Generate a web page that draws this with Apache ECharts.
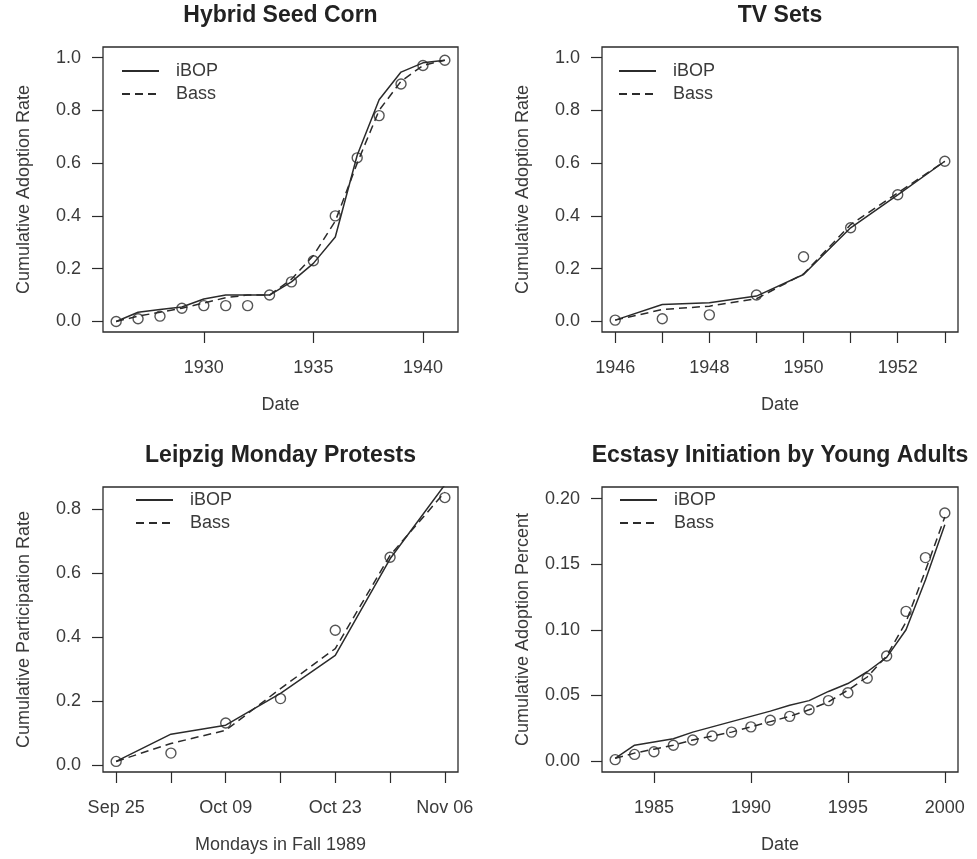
<!DOCTYPE html>
<html><head><meta charset="utf-8">
<script src="https://cdn.jsdelivr.net/npm/echarts@6/dist/echarts.min.js"></script>
<style>html,body{margin:0;padding:0;background:#fff}#c{width:977px;height:859px}</style>
</head><body><div id="c"></div>
<script>
// ---- Hybrid Seed Corn ----
const cornYears = [1926,1927,1928,1929,1930,1931,1932,1933,1934,1935,1936,1937,1938,1939,1940,1941];
const cornObs   = [0.00,0.01,0.02,0.05,0.06,0.06,0.06,0.10,0.15,0.23,0.40,0.62,0.78,0.90,0.97,0.99];
const cornIBOP  = [0.00,0.035,0.045,0.055,0.085,0.10,0.10,0.10,0.15,0.22,0.32,0.63,0.84,0.945,0.98,0.99];
const cornBass  = [0.00,0.02,0.035,0.05,0.07,0.09,0.10,0.10,0.16,0.25,0.38,0.60,0.80,0.91,0.97,0.99];
// ---- TV Sets ----
const tvYears = [1946,1947,1948,1949,1950,1951,1952,1953];
const tvObs   = [0.005,0.01,0.025,0.10,0.245,0.355,0.48,0.607];
const tvIBOP  = [0.005,0.064,0.071,0.096,0.178,0.355,0.48,0.607];
const tvBass  = [0.005,0.045,0.058,0.086,0.18,0.367,0.487,0.607];
// ---- Leipzig Monday Protests ----
const mondays  = ['Sep 25','Oct 02','Oct 09','Oct 16','Oct 23','Oct 30','Nov 06'];
const leipObs  = [0.012,0.038,0.132,0.208,0.421,0.649,0.835];
const leipIBOP = [0.012,0.097,0.125,0.224,0.343,0.644,0.875];
const leipBass = [0.012,0.068,0.109,0.239,0.364,0.655,0.852];
// ---- Ecstasy Initiation by Young Adults ----
const ecsYears = [1983,1984,1985,1986,1987,1988,1989,1990,1991,1992,1993,1994,1995,1996,1997,1998,1999,2000];
const ecsObs   = [0.001,0.005,0.007,0.012,0.016,0.019,0.022,0.026,0.031,0.034,0.039,0.046,0.052,0.063,0.080,0.114,0.155,0.189];
const ecsIBOP  = [0.002,0.012,0.0145,0.017,0.022,0.026,0.030,0.034,0.038,0.0425,0.046,0.053,0.059,0.068,0.079,0.100,0.138,0.180];
const ecsBass  = [0.002,0.006,0.009,0.012,0.016,0.019,0.022,0.026,0.030,0.034,0.039,0.045,0.054,0.064,0.080,0.106,0.145,0.186];
// ---- tick values / labels ----
const cornXTicks = [1930,1935,1940];
const tvXTicks   = [1946,1947,1948,1949,1950,1951,1952,1953];
const tvXLabels  = [1946,1948,1950,1952];
const leipXTicks = [0,1,2,3,4,5,6];
const leipXLabels= [0,2,4,6];
const ecsXTicks  = [1985,1990,1995,2000];
const rateYTicks = [0,0.2,0.4,0.6,0.8,1.0];
const leipYTicks = [0,0.2,0.4,0.6,0.8];
const ecsYTicks  = [0,0.05,0.10,0.15,0.20];
const titles = ['Hybrid Seed Corn','TV Sets','Leipzig Monday Protests','Ecstasy Initiation by Young Adults'];
const yNames = ['Cumulative Adoption Rate','Cumulative Adoption Rate','Cumulative Participation Rate','Cumulative Adoption Percent'];
const xNames = ['Date','Date','Mondays in Fall 1989','Date'];

const FONT = 'Liberation Sans, Arial, Helvetica, sans-serif';
const INK = '#2b2b2b';
const TXT = '#3a3a3a';
const idx = a => a.map((_, i) => i);
const zip = (xs, ys) => xs.map((x, i) => [x, ys[i]]);

const panels = [
  {grid:{left:103,top:47,width:355,height:285}, xs:cornYears, obs:cornObs, ib:cornIBOP, bs:cornBass,
   xmin:1925.4, xmax:1941.6, ymin:-0.04, ymax:1.04, xt:cornXTicks, xl:cornXTicks, xf:v=>String(v),
   yt:rateYTicks, yf:v=>v.toFixed(1), leg:{left:121,top:62}},
  {grid:{left:602,top:47,width:356,height:285}, xs:tvYears, obs:tvObs, ib:tvIBOP, bs:tvBass,
   xmin:1945.72, xmax:1953.28, ymin:-0.04, ymax:1.04, xt:tvXTicks, xl:tvXLabels, xf:v=>String(v),
   yt:rateYTicks, yf:v=>v.toFixed(1), leg:{left:618,top:62}},
  {grid:{left:103,top:487,width:355,height:285}, xs:idx(mondays), obs:leipObs, ib:leipIBOP, bs:leipBass,
   xmin:-0.24, xmax:6.24, ymin:-0.021, ymax:0.868, xt:leipXTicks, xl:leipXLabels, xf:v=>mondays[Math.round(v)],
   yt:leipYTicks, yf:v=>v.toFixed(1), leg:{left:135,top:491}},
  {grid:{left:602,top:487,width:356,height:285}, xs:ecsYears, obs:ecsObs, ib:ecsIBOP, bs:ecsBass,
   xmin:1982.32, xmax:2000.68, ymin:-0.0084, ymax:0.2088, xt:ecsXTicks, xl:ecsXTicks, xf:v=>String(v),
   yt:ecsYTicks, yf:v=>v.toFixed(2), leg:{left:619,top:491}}
];

const option = {animation:false, backgroundColor:'#fff', title:[], grid:[], xAxis:[], yAxis:[], legend:[], series:[]};
panels.forEach((p, i) => {
  const gx = p.grid.left + p.grid.width / 2;
  option.title.push({text:titles[i], left:gx, top:p.grid.top - 43, textAlign:'center', padding:0,
    textStyle:{fontFamily:FONT, fontSize:23, fontWeight:'bold', color:'#222'}});
  option.grid.push(Object.assign({show:true, borderColor:INK, borderWidth:1.3, backgroundColor:'transparent', containLabel:false}, p.grid));
  option.xAxis.push({type:'value', gridIndex:i, min:p.xmin, max:p.xmax,
    axisLine:{show:false, onZero:false}, splitLine:{show:false},
    axisTick:{show:true, inside:false, length:11, customValues:p.xt, lineStyle:{color:INK, width:1.2}},
    axisLabel:{customValues:p.xl, formatter:p.xf, margin:27, color:TXT, fontSize:18, fontFamily:FONT},
    name:xNames[i], nameLocation:'middle', nameGap:64,
    nameTextStyle:{color:TXT, fontSize:18, fontFamily:FONT}});
  option.yAxis.push({type:'value', gridIndex:i, min:p.ymin, max:p.ymax,
    axisLine:{show:false, onZero:false}, splitLine:{show:false},
    axisTick:{show:true, inside:false, length:11, customValues:p.yt, lineStyle:{color:INK, width:1.2}},
    axisLabel:{customValues:p.yt, formatter:p.yf, margin:22, color:TXT, fontSize:18, fontFamily:FONT},
    name:yNames[i], nameLocation:'middle', nameGap:70, nameRotate:90,
    nameTextStyle:{color:TXT, fontSize:18, fontFamily:FONT}});
  option.legend.push({data:['iBOP','Bass'], orient:'vertical', left:p.leg.left, top:p.leg.top,
    itemWidth:37, itemHeight:18, itemGap:5, padding:0, selectedMode:false,
    itemStyle:{opacity:0, borderWidth:0},
    textStyle:{fontFamily:FONT, fontSize:18, color:TXT, padding:[0,0,0,12]}});
  option.series.push({name:'iBOP', type:'line', xAxisIndex:i, yAxisIndex:i, data:zip(p.xs, p.ib),
    symbol:'none', clip:true, lineStyle:{color:INK, width:1.5, type:'solid'}, itemStyle:{color:INK}, z:3});
  option.series.push({name:'Bass', type:'line', xAxisIndex:i, yAxisIndex:i, data:zip(p.xs, p.bs),
    symbol:'none', clip:true, lineStyle:{color:INK, width:1.5, type:[8,5]}, itemStyle:{color:INK}, z:3});
  option.series.push({name:'Observed', type:'scatter', xAxisIndex:i, yAxisIndex:i, data:zip(p.xs, p.obs),
    symbol:'circle', symbolSize:10, clip:false,
    itemStyle:{color:'rgba(0,0,0,0)', borderColor:INK, borderWidth:1.4}, z:4});
});
const chart = echarts.init(document.getElementById('c'), null, {renderer:'canvas'});
chart.setOption(option);
</script>
</body></html>
